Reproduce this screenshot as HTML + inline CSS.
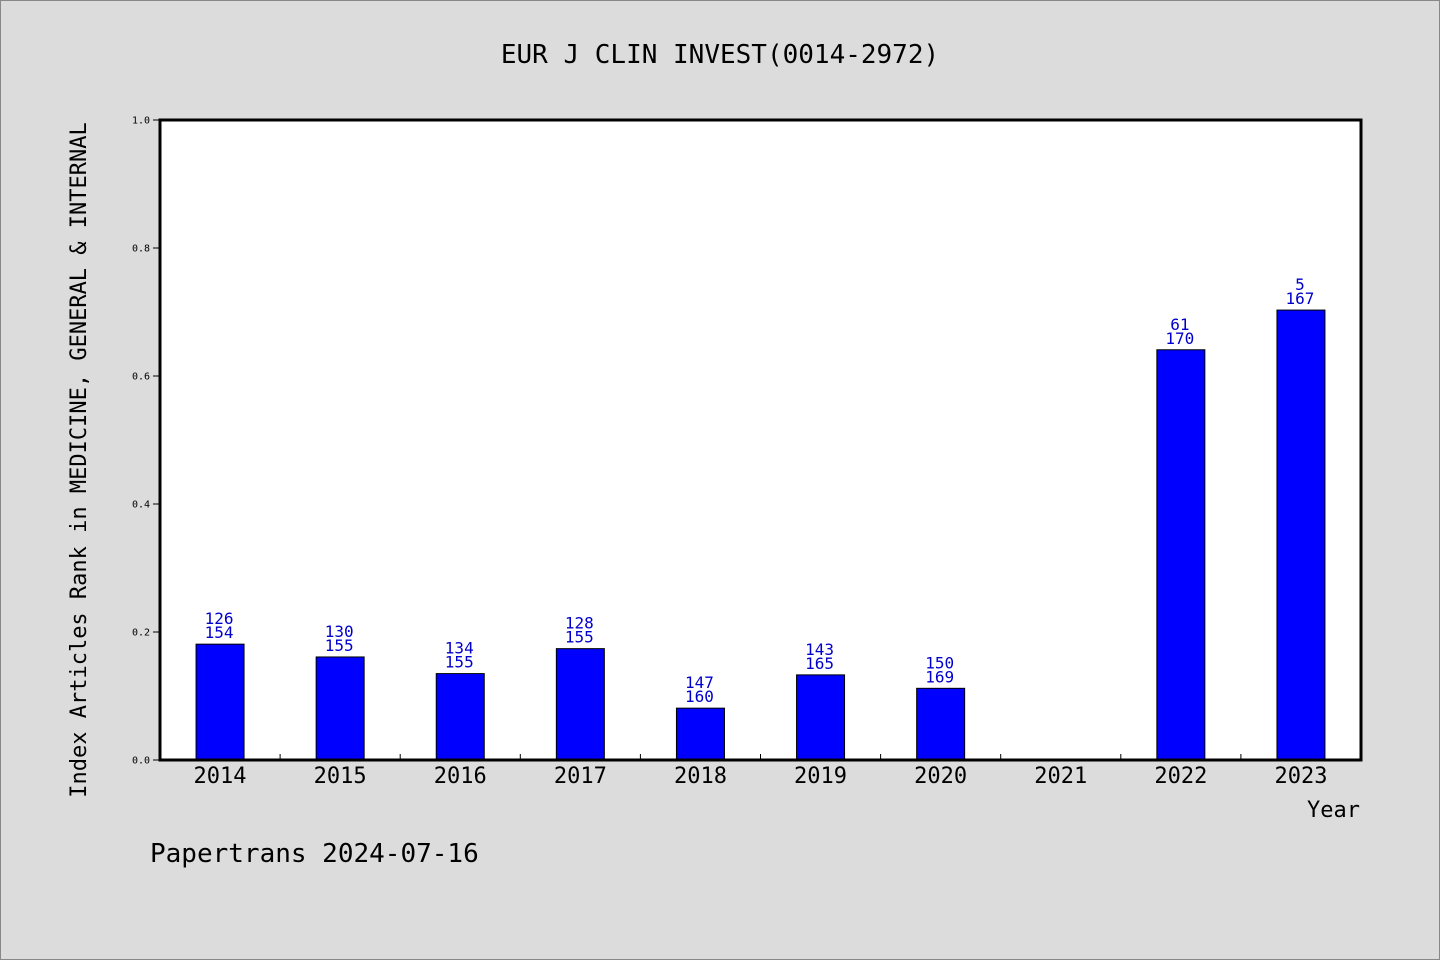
<!DOCTYPE html>
<html><head><meta charset="utf-8"><style>
body{margin:0;background:#dcdcdc;}
svg{display:block;font-family:"DejaVu Sans Mono","Liberation Mono",monospace;}
</style></head><body>
<svg width="1440" height="960">
<rect x="0.5" y="0.5" width="1439" height="959" fill="#dcdcdc" stroke="#888"/>
<text x="720" y="63" text-anchor="middle" font-size="26" fill="#000">EUR J CLIN INVEST(0014-2972)</text>
<text transform="translate(86,460) rotate(-90)" text-anchor="middle" font-size="22" fill="#000">Index Articles Rank in MEDICINE, GENERAL &amp; INTERNAL</text>
<text x="1360" y="817" text-anchor="end" font-size="22">Year</text>
<text x="150" y="862" font-size="26">Papertrans 2024-07-16</text>
<rect x="160" y="120" width="1201" height="640" fill="#fff"/>
<g id="marks"></g>
<rect x="160" y="120" width="1201" height="640" fill="none" stroke="#000" stroke-width="3"/>
</svg>
<script>
const years=["2014","2015","2016","2017","2018","2019","2020","2021","2022","2023"];
const ranks=[126,130,134,128,147,143,150,null,61,5];
const totals=[154,155,155,155,160,165,169,null,170,167];
const values=[0.181,0.161,0.135,0.174,0.081,0.133,0.112,null,0.641,0.703];
const yTicks=[0,0.2,0.4,0.6,0.8,1.0];
const yTickLabels=["0.0","0.2","0.4","0.6","0.8","1.0"];
const NS="http://www.w3.org/2000/svg";
const g=document.getElementById('marks');
const x0=160,x1=1361,y0=760,y1=120;
const band=(x1-x0)/years.length;
const xC=i=>x0+band*(i+0.5);
const yS=v=>y0-(y0-y1)*v;
function mk(t,a){const e=document.createElementNS(NS,t);for(const k in a)e.setAttribute(k,a[k]);g.appendChild(e);return e;}
yTicks.forEach((v,i)=>{
 const l=mk('line',{x1:x0-7,x2:x0,y1:yS(v),y2:yS(v),stroke:'#000','stroke-width':1});
 
 
 const t=mk('text',{x:x0-10,y:yS(v)+3.5,'text-anchor':'end','font-size':10});
 t.textContent=yTickLabels[i];
 
 
});
years.forEach((yr,i)=>{
 if(i>0){const l=mk('line',{x1:x0+band*i,x2:x0+band*i,y1:y0,y2:y0-6,stroke:'#000','stroke-width':1});
 
 }
 const t=mk('text',{x:xC(i),y:y0+23,'text-anchor':'middle','font-size':22});
 t.textContent=yr;
 
 
 if(values[i]==null)return;
 const top=yS(values[i]);
 const r=mk('rect',{x:xC(i)-24,y:top,width:48,height:y0-top,fill:'#0000ff',stroke:'#000','stroke-width':1});
 
 
 const a=mk('text',{x:xC(i)-1,y:top-20,'text-anchor':'middle','font-size':16,fill:'#0000cc'});
 a.textContent=ranks[i];
 
 
 const b=mk('text',{x:xC(i)-1,y:top-6,'text-anchor':'middle','font-size':16,fill:'#0000cc'});
 b.textContent=totals[i];
 
 
});
</script>
</body></html>
